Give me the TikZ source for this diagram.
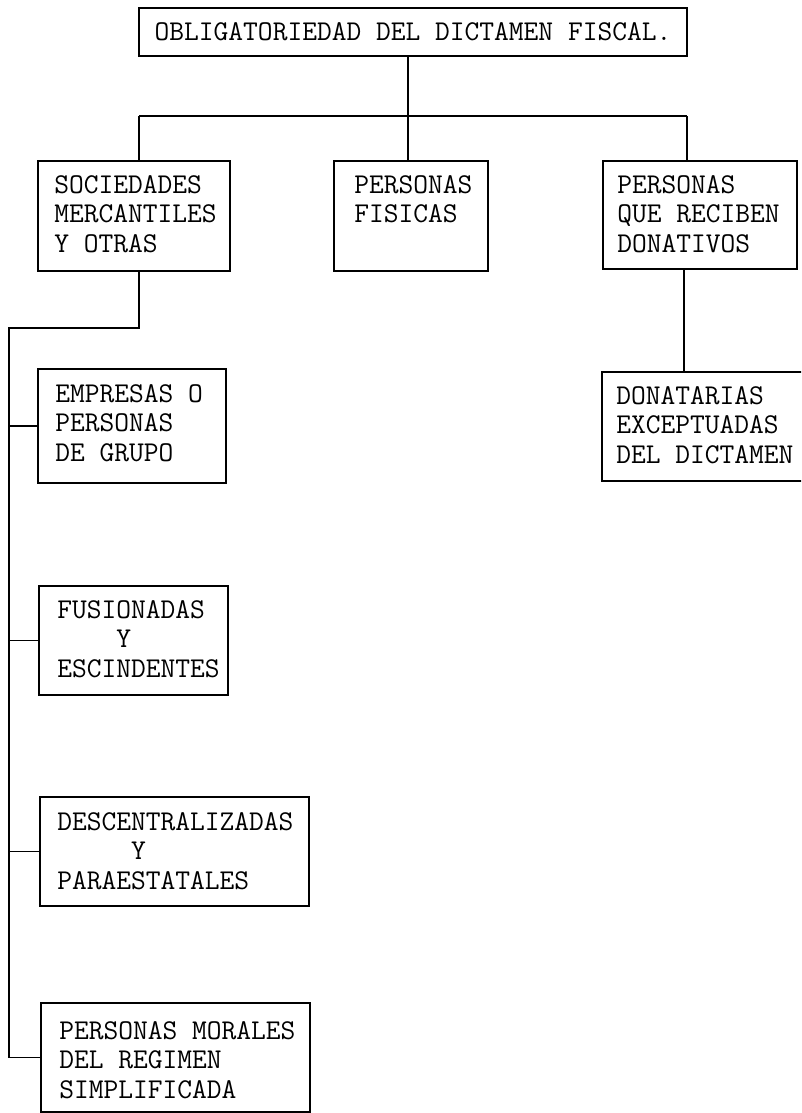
\documentclass[tikz,border=0pt]{standalone}
\usetikzlibrary{calc}
\begin{document}
\begin{tikzpicture}[x=0.75pt,y=-0.75pt]
\tikzset{
  box/.style 2 args={draw, line width=1.2pt, inner sep=0pt, anchor=north west,
    minimum width=#1*0.75pt, minimum height=#2*0.75pt},
  lbl/.style={anchor=north west, inner sep=0pt, align=left,
    font=\ttfamily\fontsize{21.5}{22.3}\selectfont},
  wire/.style={line width=1.2pt}
}
\useasboundingbox (0,0) rectangle (801,1113);
\clip (0,0) rectangle (801,1113);
% boxes
\node[box={548}{48}] (top) at (138,7) {};
\node[lbl, anchor=center] (ttop) at (413,32) {OBLIGATORIEDAD DEL DICTAMEN FISCAL.};
\node[box={192}{110}] (b1) at (37,160) {};
\node[lbl] (t1) at (54,175) {SOCIEDADES\\MERCANTILES\\Y OTRAS};
\node[box={154}{110}] (b2) at (333,160) {};
\node[lbl] (t2) at (354,175) {PERSONAS\\FISICAS};
\node[box={194}{108}] (b3) at (602,160) {};
\node[lbl] (t3) at (617,175) {PERSONAS\\QUE RECIBEN\\DONATIVOS};
\node[box={215}{109}] (b4) at (601,371) {};
\node[lbl] (t4) at (616,386) {DONATARIAS\\EXCEPTUADAS\\DEL DICTAMEN};
\node[box={188}{114}] (b5) at (37,368) {};
\node[lbl] (t5) at (55,384) {EMPRESAS O\\PERSONAS\\DE GRUPO};
\node[box={189}{109}] (b6) at (38,585) {};
\node[lbl] (t6) at (57,600) {FUSIONADAS\\\hspace*{4\fontcharwd\font`M}Y\\ESCINDENTES};
\node[box={269}{109}] (b7) at (39,796) {};
\node[lbl] (t7) at (57,812) {DESCENTRALIZADAS\\\hspace*{5\fontcharwd\font`M}Y\\PARAESTATALES};
\node[box={269}{109}] (b8) at (40,1002) {};
\node[lbl] (t8) at (59,1021) {PERSONAS MORALES\\DEL REGIMEN\\SIMPLIFICADA};
% junction coordinates
\coordinate (j0) at (408,116);
\coordinate (jl) at (139,116);
\coordinate (jr) at (687,116);
\coordinate (dn) at (684,320);
\coordinate (s1) at (9,328);
% connectors
\draw[wire] (top.south -| j0) -- (j0);
\draw[wire] (jl) -- (jr);
\draw[wire] (jl) -- (b1.north -| jl);
\draw[wire] (j0) -- (b2.north -| j0);
\draw[wire] (jr) -- (b3.north -| jr);
\draw[wire] (b3.south -| dn) -- (b4.north -| dn);
\draw[wire] (b1.south -| jl) |- (s1) -- (s1 |- b8.west) -- (b8.west);
\draw[wire] (s1 |- b5.west) -- (b5.west);
\draw[wire] (s1 |- b6.west) -- (b6.west);
\draw[wire] (s1 |- b7.west) -- (b7.west);
\end{tikzpicture}
\end{document}
